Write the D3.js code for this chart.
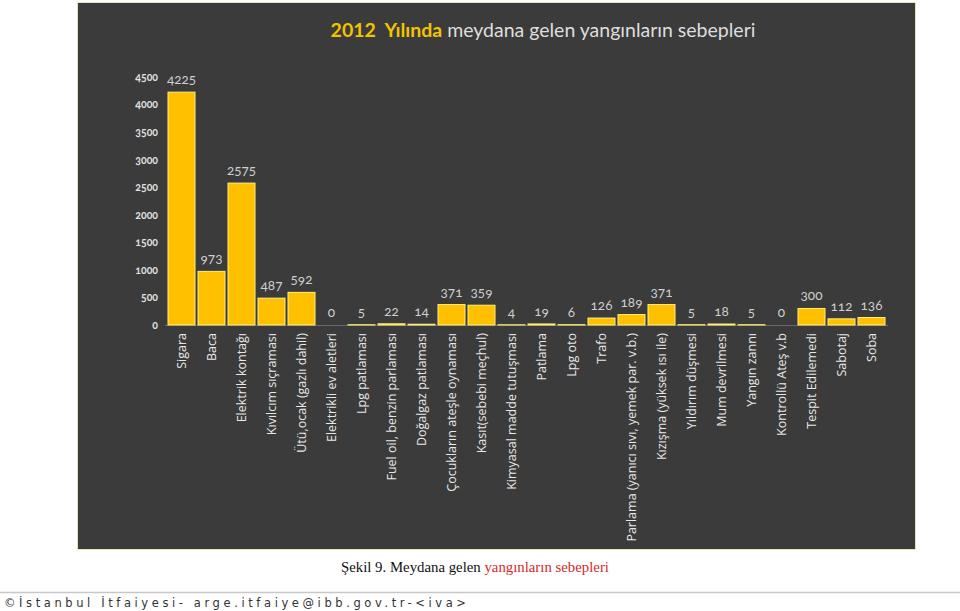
<!DOCTYPE html>
<html><head><meta charset="utf-8">
<script src="https://cdn.jsdelivr.net/npm/d3@7"></script>
<style>
html,body{margin:0;padding:0;background:#fff;}
svg{display:block;}
</style></head>
<body>
<svg id="c" width="960" height="611"></svg>
<script>
const categories = ["Sigara","Baca","Elektrik kontağı","Kıvılcım sıçraması","Ütü,ocak (gazlı dahil)","Elektrikli ev aletleri","Lpg patlaması","Fuel oil, benzin parlaması","Doğalgaz patlaması","Çocukların ateşle oynaması","Kasıt(sebebi meçhul)","Kimyasal madde tutuşması","Patlama","Lpg oto","Trafo","Parlama (yanıcı sıvı, yemek par. v.b.)","Kızışma (yüksek ısı ile)","Yıldırım düşmesi","Mum devrilmesi","Yangın zannı","Kontrollü Ateş v.b","Tespit Edilemedi","Sabotaj","Soba"];
const values = [4225,973,2575,487,592,0,5,22,14,371,359,4,19,6,126,189,371,5,18,5,0,300,112,136];
const yTicks = [0,500,1000,1500,2000,2500,3000,3500,4000,4500];

const svg = d3.select("#c");
const numFont = "Lato, 'Open Sans', sans-serif";

// panel
svg.append("rect").attr("x",77.5).attr("y",2.5).attr("width",838).attr("height",547)
  .attr("fill","#3b3b3b").attr("stroke","#e6e2b8").attr("stroke-width",1);

// title
const title = svg.append("text").attr("x",543).attr("y",37).attr("text-anchor","middle")
  .attr("font-family","Lato, 'Open Sans', sans-serif").attr("font-size",19.5)
  .style("white-space","pre");
title.append("tspan").attr("fill","#f2c400").attr("font-weight","bold").text("2012  Yılında");
title.append("tspan").attr("fill","#dedede").text(" meydana gelen yangınların sebepleri");

const x = d3.scaleBand().domain(categories).range([166.5,886.5]).paddingInner(0.1).paddingOuter(0.05);
const y = d3.scaleLinear().domain([0,4500]).range([325,77]);

// y axis
const yAxis = d3.axisLeft(y).tickValues(yTicks).tickSize(0).tickPadding(0).tickFormat(d3.format("d"));
const ya = svg.append("g").attr("transform","translate(158,0)").call(yAxis);
ya.select(".domain").remove();
ya.selectAll("text").attr("fill","#e0e0e0").attr("font-size",10.5).attr("font-weight","bold")
  .attr("font-family",numFont).style("font-variant-numeric","oldstyle-nums");

// baseline
svg.append("line").attr("x1",165).attr("x2",888).attr("y1",y(0)+0.5).attr("y2",y(0)+0.5)
  .attr("stroke","#6a6a6a").attr("stroke-width",1);

// bars
svg.append("g").selectAll("rect").data(values.map((v,i)=>({c:categories[i],v})).filter(d=>d.v>0))
  .join("rect")
  .attr("x",d=>x(d.c)).attr("width",x.bandwidth())
  .attr("y",d=>y(d.v)).attr("height",d=>y(0)-y(d.v))
  .attr("fill","#ffc000").attr("stroke","#fff07a").attr("stroke-width",1);

// value labels
svg.append("g").selectAll("text").data(values.map((v,i)=>({c:categories[i],v})))
  .join("text")
  .attr("x",d=>x(d.c)+x.bandwidth()/2)
  .attr("y",d=>y(d.v)-8)
  .attr("text-anchor","middle").attr("fill","#cfcfcf").attr("font-size",13.5)
  .attr("font-family",numFont).style("font-variant-numeric","oldstyle-nums")
  .text(d=>d.v);

// x labels
const xAxis = d3.axisBottom(x).tickSize(0).tickPadding(0);
const xa = svg.append("g").attr("transform",`translate(0,${y(0)})`).call(xAxis);
xa.select(".domain").remove();
xa.selectAll("text").attr("transform","translate(4,8) rotate(-90)").attr("text-anchor","end")
  .attr("dy","0").attr("x",0).attr("y",0)
  .attr("fill","#e8e8e8").attr("font-size",12.5).attr("font-family","'Open Sans', Lato, sans-serif");

// caption
const cap = svg.append("text").attr("x",341).attr("y",572)
  .attr("font-family","'Liberation Serif', 'DejaVu Serif', serif").attr("font-size",14.8)
  .style("white-space","pre");
cap.append("tspan").attr("fill","#111").text("Şekil 9. Meydana gelen ");
cap.append("tspan").attr("fill","#d42a2a").text("yangınların sebepleri");

// footer
svg.append("line").attr("x1",0).attr("x2",960).attr("y1",592.5).attr("y2",592.5)
  .attr("stroke","#c8c8c8").attr("stroke-width",1.5);
svg.append("text").attr("x",4).attr("y",607).attr("fill","#333")
  .attr("font-family","'DejaVu Sans', sans-serif").attr("font-size",11.5).attr("letter-spacing",3.6)
  .text("©İstanbul İtfaiyesi- arge.itfaiye@ibb.gov.tr-<iva>");
</script>
</body></html>
